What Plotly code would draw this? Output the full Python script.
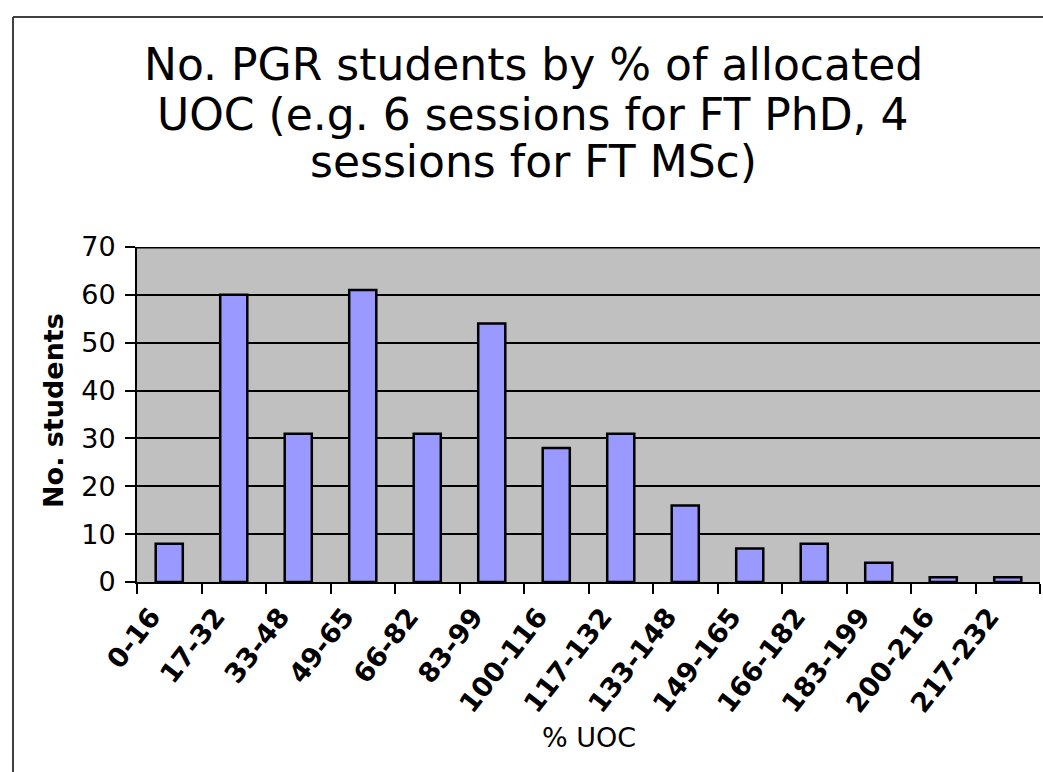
import plotly.graph_objects as go

categories = ["0-16", "17-32", "33-48", "49-65", "66-82", "83-99", "100-116",
              "117-132", "133-148", "149-165", "166-182", "183-199", "200-216", "217-232"]
students = [8, 60, 31, 61, 31, 54, 28, 31, 16, 7, 8, 4, 1, 1]
y_ticks = [0, 10, 20, 30, 40, 50, 60, 70]

title_lines = ["No. PGR students by % of allocated",
               "UOC (e.g. 6 sessions for FT PhD, 4",
               "sessions for FT MSc)"]

W, H = 1043, 772
L, R, T, B = 137, 3, 247, 190
PW, PH = W - L - R, H - T - B

def px(x):
    return (x - L) / PW

def py(y):
    return (H - B - y) / PH

FONT = "DejaVu Sans"

fig = go.Figure(go.Bar(
    x=categories, y=students,
    marker=dict(color="#9999FF", line=dict(color="black", width=2.5)),
))

annotations = []
for txt, yc in zip(title_lines, [65, 114, 162]):
    annotations.append(dict(text=txt, x=px(533), y=py(yc), xref="paper", yref="paper",
                            xanchor="center", yanchor="middle", showarrow=False,
                            font=dict(family=FONT, size=44, color="black")))
annotations.append(dict(text="No. students", x=px(53), y=py(411), xref="paper", yref="paper",
                        xanchor="center", yanchor="middle", showarrow=False, textangle=-90,
                        font=dict(family=FONT, size=27, color="black", weight="bold")))
annotations.append(dict(text="% UOC", x=0.5, y=py(737), xref="paper", yref="paper",
                        xanchor="center", yanchor="middle", showarrow=False,
                        font=dict(family=FONT, size=27, color="black")))

shapes = [
    dict(type="line", xref="paper", yref="paper", x0=px(13), x1=px(1045), y0=py(17), y1=py(17),
         line=dict(color="#404040", width=2)),
    dict(type="line", xref="paper", yref="paper", x0=px(13), x1=px(13), y0=py(17), y1=py(775),
         line=dict(color="#404040", width=2)),
    dict(type="line", xref="paper", yref="y", x0=0, x1=1, y0=70, y1=70,
         line=dict(color="black", width=3)),
]

fig.update_layout(
    width=W, height=H,
    margin=dict(l=L, r=R, t=T, b=B, pad=0),
    paper_bgcolor="white", plot_bgcolor="#C0C0C0",
    showlegend=False, bargap=0.58,
    annotations=annotations, shapes=shapes,
    font=dict(family=FONT, color="black"),
)
fig.update_xaxes(
    type="category", tickangle=-52, showgrid=False,
    showline=True, linecolor="black", linewidth=2,
    ticks="outside", tickson="boundaries", ticklen=10, tickwidth=2, tickcolor="black",
    tickfont=dict(family=FONT, size=27, color="black", weight="bold"),
    ticklabelshift=-18, ticklabelstandoff=6,
)
fig.update_yaxes(
    range=[0, 70], tickvals=y_ticks, showgrid=True, gridcolor="black", gridwidth=2,
    zeroline=False, showline=True, linecolor="black", linewidth=2,
    ticks="outside", ticklen=10, tickwidth=2, tickcolor="black",
    tickfont=dict(family=FONT, size=27, color="black"),
    ticklabelstandoff=4,
)

fig.write_html("out.html", config={"displayModeBar": False},
               post_script="document.body.style.margin='0';document.body.style.padding='0';")
